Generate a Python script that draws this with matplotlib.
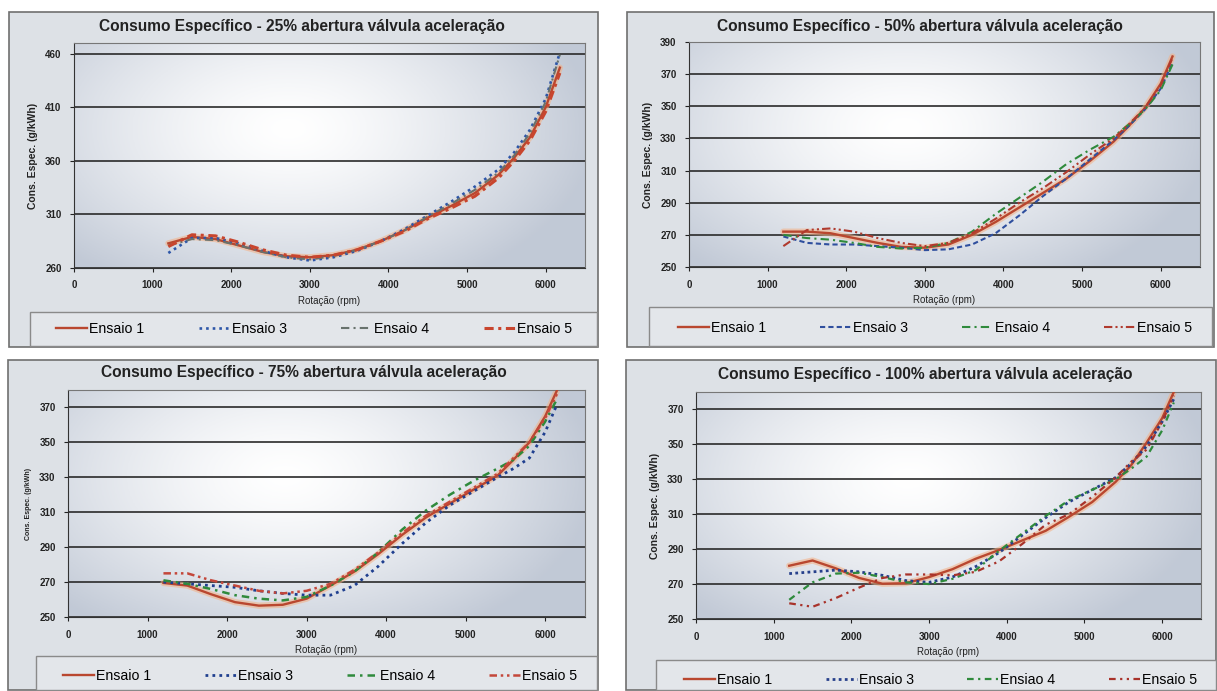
import numpy as np
import matplotlib
matplotlib.use('Agg')
import matplotlib.pyplot as plt
from matplotlib.patches import Rectangle

plt.rcParams['font.family'] = ['Liberation Sans', 'DejaVu Sans']

W, H = 1217, 691

# rotation (rpm) where the curves were read
rpm = [1200, 1500, 1800, 2100, 2400, 2700, 3000, 3300, 3600, 3900, 4200,
       4500, 4800, 5100, 5400, 5600, 5800, 6000, 6150]
rpm_25 = [1200, 1500, 1800, 2100, 2400, 2700, 3000, 3300, 3600, 3900, 4200,
          4500, 4800, 5100, 5400, 5600, 5800, 6000, 6180]

labels = ['Ensaio 1', 'Ensaio 3', 'Ensaio 4', 'Ensaio 5']
labels_100 = ['Ensaio 1', 'Ensaio 3', 'Ensiao 4', 'Ensaio 5']

# 25% throttle
e1_25 = [283, 289, 287, 281, 275, 271, 270, 272, 277, 285, 295, 307, 318, 330, 347, 363, 382, 410, 447]
e3_25 = [274, 288, 288, 283, 276, 270, 267, 270, 276, 285, 296, 309, 322, 336, 352, 368, 389, 418, 461]
e4_25 = [281, 287, 286, 281, 275, 270, 268, 271, 277, 285, 295, 308, 320, 333, 349, 365, 386, 415, 459]
e5_25 = [280, 291, 290, 284, 277, 272, 270, 272, 277, 285, 294, 306, 316, 327, 344, 360, 379, 406, 442]

# 50% throttle
e1_50 = [272, 272, 271, 268, 265, 262.5, 262, 264, 270, 278, 287, 296, 305, 316, 328, 338, 349, 364, 381]
e3_50 = [269, 265, 264, 264, 263, 262, 260.5, 261, 264, 271, 282, 294, 305, 317, 329, 338, 348, 361, 377]
e4_50 = [270, 268, 267, 265, 262.5, 261.5, 262, 265, 272, 283, 293, 303, 314, 323, 331, 339, 348, 360, 376]
e5_50 = [263, 273, 274, 272, 268, 265, 263, 265, 271, 280, 290, 299, 309, 320, 330, 339, 349, 363, 380]

# 75% throttle
e1_75 = [269.5, 268, 263, 258.5, 256.5, 257, 260.5, 268, 276, 286, 297, 307, 315, 323, 331, 340, 350, 365, 380]
e3_75 = [270, 269, 268, 267, 265, 263.5, 262.5, 262.5, 268, 279, 292, 304, 314, 322, 330, 335, 341, 356, 372]
e4_75 = [271, 269, 266, 262.5, 260.5, 259.5, 261.5, 268, 276, 287, 300, 311, 320, 328, 335, 340, 348, 362, 375]
e5_75 = [275, 275, 271, 268, 265, 263.5, 265, 269, 277, 287, 298, 308, 316, 324, 332, 341, 350, 364, 378]

# 100% throttle
e1_100 = [280.5, 283.5, 279, 273.5, 270.2, 270.5, 274, 278.5, 284.5, 289.5, 295, 300.5, 308.5, 317, 328.5, 338, 351, 365, 380]
e3_100 = [276, 277, 278, 277, 275, 272, 271, 274, 280, 288, 298, 308, 317, 324, 331, 339, 349, 363, 376]
e4_100 = [261, 271, 276, 276.5, 274, 271, 270, 273, 278, 289, 299, 309, 318, 324, 330, 336, 343, 358, 374]
e5_100 = [259, 257, 262, 268, 273.5, 275.5, 275.5, 275, 277, 283, 293, 304, 310, 320, 331, 340, 347, 363, 378]


def fx(px):
    return px / W


def fy(py):
    return 1 - py / H


def plot_bg(ax):
    xx, yy = np.meshgrid(np.linspace(0, 1, 200), np.linspace(0, 1, 100))
    r = np.sqrt(((xx - 0.42) / 0.6) ** 2 + ((yy - 0.62) / 0.8) ** 2)
    t = np.clip(r, 0, 1) ** 1.4
    edge = np.array([0.76, 0.79, 0.84])
    img = (1 - t[..., None]) + edge * t[..., None]
    ax.imshow(img, extent=[0, 1, 0, 1], transform=ax.transAxes,
              aspect='auto', zorder=0, origin='lower')


def draw_panel(fig, box, plot, leg, title, tx, ty, x, series, styles, labs,
               yticks, ylim, ylab_fs=7.5):
    # chart area and legend area, kept behind the axes
    fig.patches.append(Rectangle((fx(box[0]), fy(box[3])), fx(box[2] - box[0]),
                                 (box[3] - box[1]) / H, transform=fig.transFigure,
                                 facecolor='#dde1e6', edgecolor='#6f6f6f', lw=1.2, zorder=-2))
    fig.patches.append(Rectangle((fx(leg[0]), fy(leg[3])), fx(leg[2] - leg[0]),
                                 (leg[3] - leg[1]) / H, transform=fig.transFigure,
                                 facecolor='#e3e6ea', edgecolor='#8a8a8a', lw=1, zorder=-1))
    fig.text(fx(tx), fy(ty), title, ha='center', va='center', fontsize=11.2,
             fontweight='bold', color='#222')

    ax = fig.add_axes([fx(plot[0]), fy(plot[3]), fx(plot[2] - plot[0]),
                       (plot[3] - plot[1]) / H])
    plot_bg(ax)
    handles = []
    for i, (y, st) in enumerate(zip(series, styles)):
        if i == 0:
            ax.plot(x, y, color='#f4b084', lw=4.5, alpha=0.55, zorder=2,
                    solid_capstyle='round')
        h, = ax.plot(x, y, zorder=3, **st)
        handles.append(h)
    ax.set_xlim(0, 6500)
    ax.set_ylim(*ylim)
    ax.set_xticks(range(0, 6001, 1000))
    ax.set_yticks(yticks)
    ax.yaxis.grid(True, color='#2a2a2a', lw=1.2)
    ax.set_axisbelow(True)
    for s in ['left', 'bottom']:
        ax.spines[s].set_color('#333')
    for s in ['top', 'right']:
        ax.spines[s].set_color('#777')
    ax.tick_params(labelsize=7, length=3, width=0.8, pad=6, colors='#222')
    for lab in ax.get_xticklabels() + ax.get_yticklabels():
        lab.set_fontweight('bold')
    ax.set_xlabel('Rotação (rpm)', fontsize=7, labelpad=4, color='#222')
    ax.set_ylabel('Cons. Espec. (g/kWh)', fontsize=ylab_fs, fontweight='bold',
                  labelpad=5, color='#222')

    lx0, lx1, ly = leg[4], leg[5], leg[6]
    fig.legend(handles, labs, loc='center',
               bbox_to_anchor=(fx(lx0), fy(ly) - 0.02, fx(lx1 - lx0), 0.04),
               bbox_transform=fig.transFigure, mode='expand', ncol=4,
               frameon=False, fontsize=10.2, handlelength=2.2,
               handletextpad=0.15, borderaxespad=0, borderpad=0)
    return ax


fig = plt.figure(figsize=(W / 100, H / 100), dpi=100)
fig.patch.set_facecolor('white')

red1 = dict(color='#b9472f', lw=1.7, ls='-')

draw_panel(fig, (9, 12, 598, 347), (74, 43, 585, 268),
           (30, 312, 597, 346, 56, 572, 329),
           'Consumo Específico - 25% abertura válvula aceleração', 302, 27,
           rpm_25, [e1_25, e3_25, e4_25, e5_25],
           [red1,
            dict(color='#2d56a8', lw=1.9, ls=(0, (1, 1.5))),
            dict(color='#68726d', lw=1.5, ls=(0, (4, 2, 1, 2))),
            dict(color='#c8452e', lw=2.2, ls=(0, (3, 1.5, 1, 1.5)))],
           labels, [260, 310, 360, 410, 460], (260, 470))

draw_panel(fig, (627, 12, 1214, 347), (689, 42, 1200, 267),
           (649, 307, 1212, 346, 678, 1192, 328),
           'Consumo Específico - 50% abertura válvula aceleração', 920, 27,
           rpm, [e1_50, e3_50, e4_50, e5_50],
           [red1,
            dict(color='#2f4f9e', lw=1.5, ls=(0, (2.5, 1.5))),
            dict(color='#2f8a3c', lw=1.5, ls=(0, (4, 2, 1, 2))),
            dict(color='#b03a2e', lw=1.5, ls=(0, (4, 1.5, 1, 1.5, 1, 1.5)))],
           labels, list(range(250, 391, 20)), (250, 390))

draw_panel(fig, (8, 360, 598, 690), (68, 390, 585, 617),
           (36, 656, 597, 690, 63, 577, 676),
           'Consumo Específico - 75% abertura válvula aceleração', 304, 373,
           rpm, [e1_75, e3_75, e4_75, e5_75],
           [red1,
            dict(color='#1f3f8f', lw=2.0, ls=(0, (1, 1.5))),
            dict(color='#2f8a3c', lw=1.8, ls=(0, (3, 2, 1, 2))),
            dict(color='#c4473a', lw=1.8, ls=(0, (3, 1.5, 1, 1.5, 1, 1.5)))],
           labels, list(range(250, 371, 20)), (250, 380), ylab_fs=5)

draw_panel(fig, (626, 360, 1216, 690), (696, 392, 1201, 619),
           (656, 660, 1216, 690, 684, 1197, 680),
           'Consumo Específico - 100% abertura válvula aceleração', 925, 375,
           rpm, [e1_100, e3_100, e4_100, e5_100],
           [red1,
            dict(color='#27408b', lw=2.0, ls=(0, (1, 1.2))),
            dict(color='#2f8a3c', lw=1.6, ls=(0, (3, 2, 1, 2))),
            dict(color='#a8322a', lw=1.6, ls=(0, (3, 2, 1, 2, 1, 2)))],
           labels_100, list(range(250, 371, 20)), (250, 380))

fig.savefig('out.png', dpi=100, facecolor='white')
